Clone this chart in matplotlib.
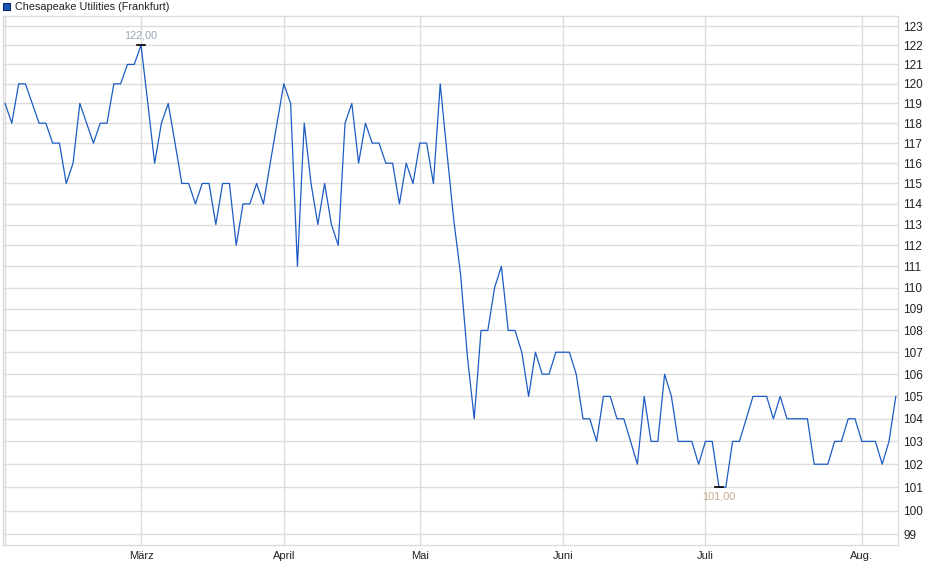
import matplotlib.pyplot as plt
from matplotlib.ticker import FixedLocator, NullLocator, FixedFormatter

# Schlusskurse (Frankfurt), ein Wert pro Handelstag
kurse = [
    119, 118, 120, 120, 119, 118, 118, 117, 117, 115,
    116, 119, 118, 117, 118, 118, 120, 120, 121, 121,
    122, 119, 116, 118, 119, 117, 115, 115, 114, 115,
    115, 113, 115, 115, 112, 114, 114, 115, 114, 116,
    118, 120, 119, 111, 118, 115, 113, 115, 113, 112,
    118, 119, 116, 118, 117, 117, 116, 116, 114, 116,
    115, 117, 117, 115, 120, 116.5, 113.2, 110.6, 106.8, 104,
    108, 108, 110, 111, 108, 108, 107, 105, 107, 106,
    106, 107, 107, 107, 106, 104, 104, 103, 105, 105,
    104, 104, 103, 102, 105, 103, 103, 106, 105, 103,
    103, 103, 102, 103, 103, 101, 101, 103, 103, 104,
    105, 105, 105, 104, 105, 104, 104, 104, 104, 102,
    102, 102, 103, 103, 104, 104, 103, 103, 103, 102,
    103, 105,
]

# erster Handelstag jedes Monats (Index in kurse)
monat_index = [0, 20, 41, 61, 82, 103, 126]
monat_namen = ['', 'März', 'April', 'Mai', 'Juni', 'Juli', 'Aug.']

y_ticks = list(range(99, 124))

linie = '#1c5cc4'
gitter = '#dcdcdc'

plt.rcParams['font.family'] = ['Liberation Sans', 'DejaVu Sans']

fig = plt.figure(figsize=(9.4, 5.79), dpi=100)
ax = fig.add_axes([0.0029, 0.0587, 0.9524, 0.9137])

x = list(range(len(kurse)))
ax.plot(x, kurse, color=linie, linewidth=0.9, zorder=3)

ax.set_yscale('log')
ax.set_ylim(98.54, 123.53)
ax.set_xlim(-0.34, len(kurse) - 1 + 0.32)

ax.yaxis.set_major_locator(FixedLocator(y_ticks))
ax.yaxis.set_major_formatter(FixedFormatter([str(v) for v in y_ticks]))
ax.yaxis.set_minor_locator(NullLocator())
ax.yaxis.tick_right()

ax.set_xticks(monat_index)
ax.set_xticklabels(monat_namen)
ax.xaxis.set_minor_locator(NullLocator())

ax.tick_params(axis='y', length=0, pad=4, labelsize=8.5, colors='#222222')
ax.tick_params(axis='x', length=0, pad=4, labelsize=8, colors='#222222')

ax.grid(True, color=gitter, linewidth=1.0, zorder=0)
for s in ax.spines.values():
    s.set_color(gitter)
    s.set_linewidth(1.0)

# Hoch und Tief markieren
i_max = kurse.index(max(kurse))
i_min = kurse.index(min(kurse))
ax.plot([i_max - 0.65, i_max + 0.65], [kurse[i_max]] * 2, color='black', linewidth=1.2, zorder=4)
ax.plot([i_min - 0.65, i_min + 0.65], [kurse[i_min]] * 2, color='black', linewidth=1.2, zorder=4)
ax.annotate(f'{kurse[i_max]:.2f}'.replace('.', ','), (i_max, kurse[i_max]),
            xytext=(0, 3), textcoords='offset points', ha='center', va='bottom',
            fontsize=7.8, color='#9aa6b8')
ax.annotate(f'{kurse[i_min]:.2f}'.replace('.', ','), (i_min, kurse[i_min]),
            xytext=(0, -3), textcoords='offset points', ha='center', va='top',
            fontsize=7.8, color='#c9a888')

# Legende oben links
fig.patches.append(plt.Rectangle((3 / 940, 1 - 10 / 579), 7 / 940, 7 / 579,
                                 transform=fig.transFigure, facecolor='#1a56b8',
                                 edgecolor='#0d2a5c', linewidth=0.8))
fig.text(15 / 940, 1 - 7 / 579, 'Chesapeake Utilities (Frankfurt)',
         ha='left', va='center', fontsize=7.8, color='#222222')

plt.savefig('out.png', dpi=100)
